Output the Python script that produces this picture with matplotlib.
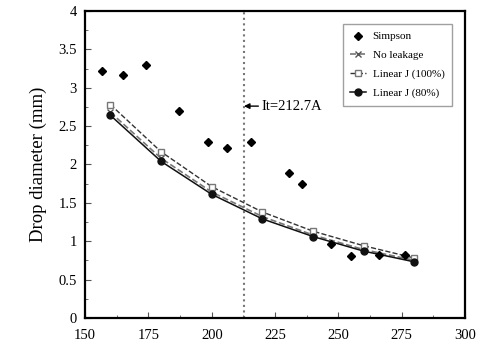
import matplotlib
matplotlib.use('Agg')
from matplotlib import pyplot as plt
from matplotlib.ticker import MultipleLocator

plt.rcParams['font.family'] = ['Liberation Serif', 'DejaVu Serif']

# Simpson measurements
simpson_x = [156.7, 165, 174, 187, 198.5, 206, 215.5, 230.5, 235.5, 247, 255, 266, 276.3]
simpson_y = [3.22, 3.16, 3.29, 2.69, 2.29, 2.22, 2.29, 1.89, 1.75, 0.96, 0.81, 0.82, 0.82]

# model curves
current = [160, 180, 200, 220, 240, 260, 280]
no_leak = [2.68, 2.08, 1.64, 1.32, 1.08, 0.89, 0.75]
lin100 = [2.78, 2.165, 1.71, 1.38, 1.13, 0.94, 0.78]
lin80 = [2.64, 2.04, 1.61, 1.29, 1.06, 0.87, 0.73]

it_value = 212.7

fig = plt.figure(figsize=(4.78, 3.54), dpi=100)
ax = fig.add_axes([0.178, 0.102, 0.795, 0.867])

ax.plot(simpson_x, simpson_y, 'D', color='black', markersize=3.8, label='Simpson', zorder=5)
ax.plot(current, no_leak, '--', color='#777777', lw=1.2, marker='x', markersize=4,
        markeredgecolor='#555555', label='No leakage')
ax.plot(current, lin100, '--', color='#333333', lw=1.0, marker='s', markersize=5,
        markerfacecolor='white', markeredgecolor='#777777', label='Linear J (100%)')
ax.plot(current, lin80, '-', color='#111111', lw=1.1, marker='o', markersize=5,
        label='Linear J (80%)')

ax.axvline(it_value, color='#777777', ls=':', lw=1.5)
ax.annotate('It=212.7A', xy=(it_value, 2.76), xytext=(219.5, 2.76),
            va='center', ha='left', fontsize=10.5,
            arrowprops=dict(arrowstyle='-|>', color='black', lw=1, shrinkA=0, shrinkB=0,
                            mutation_scale=8))

ax.set_xlim(150, 300)
ax.set_ylim(0, 4)
ax.xaxis.set_major_locator(MultipleLocator(25))
ax.xaxis.set_minor_locator(MultipleLocator(12.5))
ax.set_yticks([0, 0.5, 1, 1.5, 2, 2.5, 3, 3.5, 4])
ax.set_yticklabels(['0', '0.5', '1', '1.5', '2', '2.5', '3', '3.5', '4'])
ax.yaxis.set_minor_locator(MultipleLocator(0.25))
ax.tick_params(which='both', direction='in', labelsize=10.5, color='#555555')
ax.tick_params(axis='x', pad=8)
ax.tick_params(axis='y', pad=6)
ax.tick_params(which='major', length=4)
ax.tick_params(which='minor', length=2)
for s in ax.spines.values():
    s.set_linewidth(1.6)

ax.set_ylabel('Drop diameter (mm)', fontsize=13.5, labelpad=8)

leg = ax.legend(loc='upper right', bbox_to_anchor=(0.966, 0.958), fontsize=8,
                frameon=True, fancybox=False, edgecolor='#888888',
                handlelength=1.4, handletextpad=0.6, borderpad=0.7,
                borderaxespad=0, labelspacing=0.8)
leg.get_frame().set_linewidth(1.0)

fig.savefig('out.png', dpi=100)
